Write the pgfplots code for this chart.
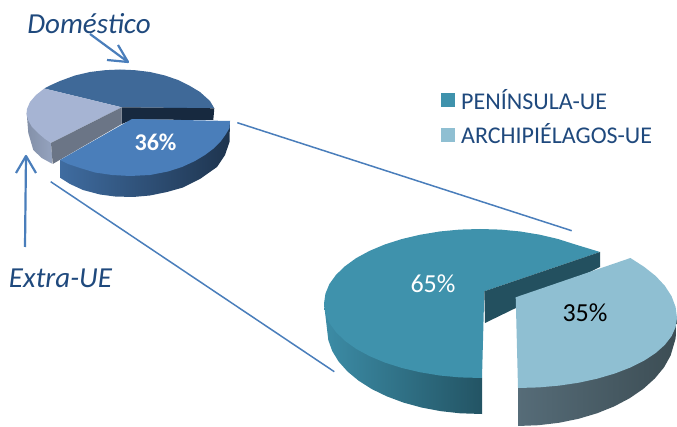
\documentclass[border=0pt]{standalone}
\usepackage{pgfplots}
\pgfplotsset{compat=1.18}
\usepackage{fontspec}
\setmainfont{Carlito}
\definecolor{navy}{HTML}{1F497D}
\definecolor{line}{HTML}{4A7EBB}
\definecolor{domface}{HTML}{3F6998}
\definecolor{domwall}{HTML}{17293F}
\definecolor{extface}{HTML}{A6B4D3}
\definecolor{extin}{HTML}{6B7586}
\definecolor{extoutl}{HTML}{95A3BF}
\definecolor{extoutr}{HTML}{8390A8}
\definecolor{intface}{HTML}{4A7EBA}
\definecolor{intwalll}{HTML}{3F6CA0}
\definecolor{intwallm}{HTML}{24405F}
\definecolor{intwallr}{HTML}{1E344E}
\definecolor{pen}{HTML}{3F92AC}
\definecolor{penwalll}{HTML}{3C8CA6}
\definecolor{penwallr}{HTML}{235464}
\definecolor{penin}{HTML}{23505F}
\definecolor{arc}{HTML}{8FBFD2}
\definecolor{arcwalll}{HTML}{566C78}
\definecolor{arcwallm}{HTML}{3E4F56}
\definecolor{arcwallr}{HTML}{3C4D54}
\begin{document}
\begin{tikzpicture}
\useasboundingbox (0,0) rectangle (677pt,427pt);
\begin{axis}[
    scale only axis,
    width=677pt,
    height=427pt,
    xmin=0, xmax=677,
    ymin=0, ymax=427,
    y dir=reverse,
    hide axis,
    no markers,
    legend image code/.code={\fill[#1] (0pt,-7pt) rectangle (14pt,7pt);},
    legend cell align=left,
    legend style={draw=none, fill=none, at={(axis cs:441,89)}, anchor=north west,
        inner sep=0pt, row sep=13pt, font=\fontsize{24}{26}\selectfont, text=navy,
        nodes={inner sep=0pt, outer sep=0pt},
        /tikz/every odd column/.append style={column sep=6pt}},
    sec/.style={forget plot, draw=none},
    ln/.style={forget plot, draw=line, line join=round},
]
% small pie: walls first, faces on top
\addplot[sec, fill=domface] coordinates {(121.7,107.3) (214.3,108.3) (210,101) (200,92) (190,86) (178,80) (165,75.5) (150,72) (135,70.2) (120,69.5) (105,70.2) (90,72) (75,75.5) (60,81) (50,85.5) (44.3,88.5)};
\addplot[sec, fill=domwall] coordinates {(121.7,107.3) (214.3,108.3) (213.3,120) (133,119.5) (121.7,124)};
\addplot[sec, left color=extoutr, right color=extoutl] coordinates {(26.7,113) (28.3,133) (33.3,150) (41.7,158) (52.7,164) (51,143)};
\addplot[sec, fill=extface] coordinates {(121.7,107.3) (44.3,88.5) (36,95) (30,102) (27,109) (26.5,114) (28,120) (32,127) (38,133) (45,139) (51,143)};
\addplot[sec, fill=extin] coordinates {(121.7,107.3) (51,143) (52.7,164) (121.7,124)};
\addplot[sec, left color=intwalll, middle color=intwallm, right color=intwallr] coordinates {(60,160) (60.5,178) (70,184) (83,190) (100,194.5) (115,196.5) (133,197) (150,195.5) (167,192) (183,187.5) (200,179) (217,167) (225,155) (229.5,142) (230,121)};
\addplot[sec, fill=intface] coordinates {(132,119) (230,121) (229.5,128) (226,134) (221,141) (213,149) (205,155) (195,161) (182,167) (168,171.5) (150,175) (130,176) (112,175) (95,172.5) (80,168) (68,164) (60,160)};
% big pie
\addplot[sec, left color=penwalll, right color=penwallr] coordinates {(324,303.5) (327,329) (328.3,340.1) (332.2,351) (338.6,361.5) (347.5,371.5) (358.6,380.7) (371.8,389.1) (386.9,396.4) (403.5,402.6) (421.4,407.5) (440.4,411.1) (460,413.3) (482,414) (482,378)};
\addplot[sec, fill=pen] coordinates {(484.3,291.3) (600,252) (575,244.4) (558,239) (539.7,234.7) (520.4,231.5) (500.4,229.6) (480,229) (459.6,229.6) (439.6,231.5) (420.3,234.7) (402,239) (385,244.4) (369.7,250.8) (356.2,258.1) (344.9,266.3) (335.9,275) (329.3,284.2) (325.4,293.8) (324,303.5) (325.4,313.2) (329.3,322.8) (335.9,332) (344.9,340.8) (356.2,348.9) (369.7,356.2) (385,362.6) (402,368) (420.3,372.3) (439.6,375.5) (459.6,377.4) (482,378)};
\addplot[sec, fill=penin] coordinates {(484.3,291.3) (600,252) (600,267) (485,323)};
\addplot[sec, left color=arcwalll, middle color=arcwallm, right color=arcwallr] coordinates {(677,318) (676.5,330) (675.4,339.3) (670.6,355.6) (664,367.4) (654.8,378.5) (643.4,388.8) (629.7,398.2) (614.2,406.4) (597,413.3) (578.5,418.8) (558.9,422.8) (538.6,425.2) (518,426) (518,388)};
\addplot[sec, fill=arc] coordinates {(515.7,297.3) (630.4,258) (644.2,266.9) (655.7,276) (664.9,285.9) (671.6,296.3) (675.6,307) (677,318) (675.6,327.1) (671.6,336.1) (664.9,344.8) (655.7,353) (644.2,360.6) (630.4,367.5) (614.8,373.5) (597.5,378.6) (578.8,382.7) (559.2,385.6) (538.8,387.4) (518,388)};
% connector lines and arrows
\addplot[ln, line width=1.5pt] coordinates {(237.3,122.7) (571.7,230.7)};
\addplot[ln, line width=1.5pt] coordinates {(50.7,181.7) (334.3,371.7)};
\addplot[ln, line width=2.2pt] coordinates {(90,34) (128,62)};
\addplot[ln, line width=2.2pt] coordinates {(107,60) (128,62) (118,45)};
\addplot[ln, line width=2.2pt] coordinates {(25,247) (26,156)};
\addplot[ln, line width=2.2pt] coordinates {(16,173) (26,156) (36,173)};
% labels
\node[inner sep=0pt, text=navy, font=\fontsize{29}{32}\selectfont\itshape] at (axis cs:89,24) {Doméstico};
\node[inner sep=0pt, text=navy, font=\fontsize{29}{32}\selectfont\itshape] at (axis cs:60.5,278) {Extra-UE};
\node[inner sep=0pt, text=white, font=\fontsize{24}{26}\selectfont\bfseries] at (axis cs:155.5,142) {36\%};
\node[inner sep=0pt, text=white, font=\fontsize{26}{28}\selectfont] at (axis cs:433,284) {65\%};
\node[inner sep=0pt, text=black, font=\fontsize{26}{28}\selectfont] at (axis cs:585,313) {35\%};
\addlegendimage{fill=pen, draw=none}
\addlegendentry{PENÍNSULA-UE}
\addlegendimage{fill=arc, draw=none}
\addlegendentry{ARCHIPIÉLAGOS-UE}
\end{axis}
\end{tikzpicture}
\end{document}
